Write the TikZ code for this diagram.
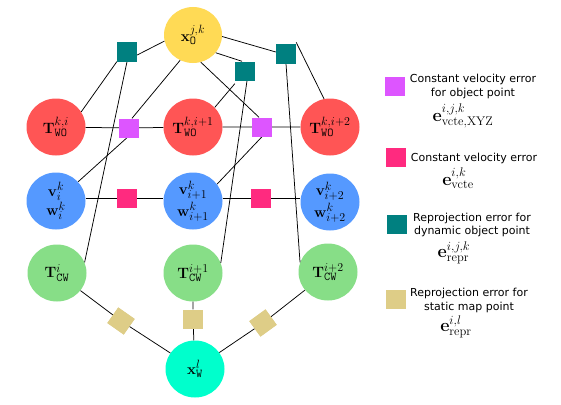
\RequirePackage{fix-cm}
\documentclass[tikz,border=0pt]{standalone}
\usepackage[no-math]{fontspec}
\newfontfamily\legendfont{DejaVu Sans}
\usetikzlibrary{shapes.geometric}
\DeclareMathSizes{15}{15}{12}{9}
\DeclareMathSizes{18}{18}{12.5}{9}
\definecolor{cyel}{HTML}{FFDA55}
\definecolor{cred}{HTML}{FF5555}
\definecolor{cblue}{HTML}{5599FF}
\definecolor{cgreen}{HTML}{87DE87}
\definecolor{ccyan}{HTML}{00FFCC}
\definecolor{cteal}{HTML}{008080}
\definecolor{cmag}{HTML}{DD55FF}
\definecolor{cpink}{HTML}{FF2A7F}
\definecolor{ctan}{HTML}{DECD87}
\begin{document}
\begin{tikzpicture}[x=1pt,y=-1pt,
  var/.style={ellipse,minimum width=59pt,minimum height=57pt,inner sep=0pt,
    font=\fontsize{15}{18}\selectfont,align=center},
  fac/.style={rectangle,minimum width=20pt,minimum height=19pt,inner sep=0pt},
  edge/.style={line width=0.75pt,black},
  leg/.style={font=\legendfont\fontsize{11}{13.5}\selectfont,align=center,inner sep=0pt},
  legm/.style={font=\fontsize{18}{20}\selectfont,inner sep=0pt}]
\fill[white] (0,0) rectangle (561,404);
\useasboundingbox (0,0) rectangle (561,404);

% variable nodes
\node[var,fill=cyel,minimum width=58pt,minimum height=56pt] (x0) at (193,35) {$\mathbf{x}_{\mathtt{O}}^{j,k}$};
\node[var,fill=cred] (two1) at (56,127) {$\mathbf{T}_{\mathtt{WO}}^{k,i}$};
\node[var,fill=cred] (two2) at (193,127) {$\mathbf{T}_{\mathtt{WO}}^{k,i+1}$};
\node[var,fill=cred] (two3) at (330,127) {$\mathbf{T}_{\mathtt{WO}}^{k,i+2}$};
\node[var,fill=cblue] (v1) at (56,201) {$\mathbf{v}_{i}^{k}$\\[1.5pt]$\mathbf{w}_{i}^{k}$};
\node[var,fill=cblue] (v2) at (193,201) {$\mathbf{v}_{i+1}^{k}$\\[1.5pt]$\mathbf{w}_{i+1}^{k}$};
\node[var,fill=cblue] (v3) at (330,202) {$\mathbf{v}_{i+2}^{k}$\\[1.5pt]$\mathbf{w}_{i+2}^{k}$};
\node[var,fill=cgreen] (tcw1) at (57,273) {$\mathbf{T}_{\mathtt{CW}}^{i}$};
\node[var,fill=cgreen] (tcw2) at (193,273) {$\mathbf{T}_{\mathtt{CW}}^{i+1}$};
\node[var,fill=cgreen] (tcw3) at (328,272) {$\mathbf{T}_{\mathtt{CW}}^{i+2}$};
\node[var,fill=ccyan] (xw) at (195,369) {$\mathbf{x}_{\mathtt{W}}^{l}$};

% factor nodes
\node[fac,fill=cteal] (r1) at (127,52) {};
\node[fac,fill=cteal] (r2) at (245,71) {};
\node[fac,fill=cteal] (r3) at (286,54) {};
\node[fac,fill=cmag] (m1) at (129,128) {};
\node[fac,fill=cmag] (m2) at (262,127) {};
\node[fac,fill=cpink] (p1) at (127,198) {};
\node[fac,fill=cpink] (p2) at (261,198) {};
\node[fac,fill=ctan,rotate=-35] (s1) at (121,321) {};
\node[fac,fill=ctan] (s2) at (193,319) {};
\node[fac,fill=ctan,rotate=36] (s3) at (263,323) {};

% edges
\draw[edge] (x0.192) -- ([yshift=-3pt]r1.east);
\draw[edge] (r1.south west) -- (two1.31);
\draw[edge] (r1.south) -- (tcw1.21);
\draw[edge] (x0.243) -- ([xshift=3pt]m1.north);
\draw[edge] ([xshift=-2pt]m1.south) -- (v1.41);
\draw[edge] (x0.-38) -- ([xshift=-3pt]r2.north);
\draw[edge] (x0.-74) -- ([xshift=-3pt]m2.north);
\draw[edge] ([yshift=-3pt]r2.south west) -- (two2.42);
\draw[edge] ([xshift=2pt]r2.south) -- (tcw2.20);
\draw[edge] (x0.-3) -- ([yshift=2pt]r3.west);
\draw[edge] ([yshift=2pt]r3.north east) -- (two3.102);
\draw[edge] (r3.south) -- (tcw3.161);
\draw[edge] (m2.south) -- (v2.35);
\draw[edge] (two1) -- (m1) -- (two2) -- (m2) -- (two3);
\draw[edge] (v1.east |- p1) -- (p1) -- (p1 -| v2.west);
\draw[edge] (v2.east |- p2) -- (p2) -- (p2 -| v3.west);
\draw[edge] (tcw1) -- (s1) -- (xw);
\draw[edge] (tcw2) -- (s2) -- (xw);
\draw[edge] (tcw3) -- (s3) -- (xw);

% redraw factors on top
\node[fac,fill=cteal] at (r1) {};
\node[fac,fill=cteal] at (r2) {};
\node[fac,fill=cteal] at (r3) {};
\node[fac,fill=cmag] at (m1) {};
\node[fac,fill=cmag] at (m2) {};
\node[fac,fill=cpink] at (p1) {};
\node[fac,fill=cpink] at (p2) {};
\node[fac,fill=ctan,rotate=-35] at (s1) {};
\node[fac,fill=ctan] at (s2) {};
\node[fac,fill=ctan,rotate=36] at (s3) {};

% legend
\node[fac,fill=cmag] (lm) at (395,86) {};
\node[leg] (lmt) at (473,86.5) {Constant velocity error\\for object point};
\node[legm] (lmm) at (463,116) {$\mathbf{e}_{\mathrm{vcte},\mathrm{XYZ}}^{i,j,k}$};
\node[fac,fill=cpink] (lp) at (396,157) {};
\node[leg] (lpt) at (474,158) {Constant velocity error};
\node[legm] (lpm) at (458,178) {$\mathbf{e}_{\mathrm{vcte}}^{i,k}$};
\node[fac,fill=cteal] (lr) at (397,224) {};
\node[leg] (lrt) at (472,225) {Reprojection error for\\dynamic object point};
\node[legm] (lrm) at (454,253) {$\mathbf{e}_{\mathrm{repr}}^{i,j,k}$};
\node[fac,fill=ctan] (ls) at (396,299) {};
\node[leg] (lst) at (469,300.5) {Reprojection error for\\static map point};
\node[legm] (lsm) at (456,327) {$\mathbf{e}_{\mathrm{repr}}^{i,l}$};
\end{tikzpicture}
\end{document}
